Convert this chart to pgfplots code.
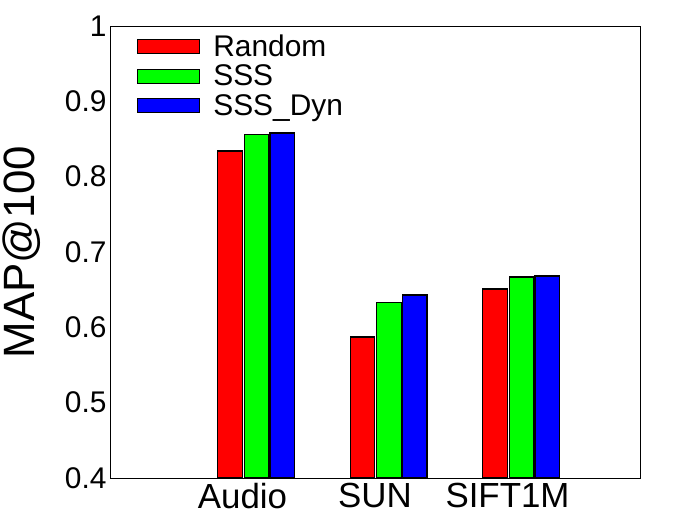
\documentclass[border=0pt]{standalone}
\usepackage{fontspec}
\setmainfont{Liberation Sans}
\usepackage{pgfplots}
\pgfplotsset{compat=1.18}

\begin{document}
\begin{tikzpicture}[x=1bp,y=1bp]
\useasboundingbox (-110,-46) rectangle (571,478);
\begin{axis}[
  at={(0,0)}, anchor=south west,
  scale only axis,
  width=530bp, height=452bp,
  xmin=0, xmax=4,
  ymin=0.4, ymax=1,
  xtick={1,2,3},
  xticklabels={Audio,SUN,SIFT1M},
  ytick={0.4,0.5,...,1.0},
  yticklabels={0.4,0.5,0.6,0.7,0.8,0.9,1},
  major tick length=0pt,
  axis line style={line width=0.8bp},
  x tick label style={font=\fontsize{35}{35}\selectfont, yshift=-2bp},
  y tick label style={font=\fontsize{30}{30}\selectfont},
  /pgf/number format/assume math mode=true,
  ylabel={MAP@100},
  ylabel style={font=\fontsize{44}{44}\selectfont, at={(axis description cs:-0.166,0.5)}, anchor=center},
  legend style={draw=none, fill=none, at={(axis description cs:0.05,0.985)}, anchor=north west,
    font=\fontsize{30}{30}\selectfont, row sep=3bp, inner sep=0pt},
  legend cell align=left,
  legend image code/.code={\draw[#1] (0bp,-7bp) rectangle (62bp,7bp); \path[draw=none,fill=none] (0bp,0bp) -- (74bp,0bp);},
  every axis plot/.append style={ybar, bar width=0.185, draw=black, line width=1.3bp},
]
\addplot[fill=red, bar shift=-0.095] coordinates {(1,0.834) (2,0.587) (3,0.651)};
\addlegendentry{Random}
\addplot[fill=green, bar shift=0.105] coordinates {(1,0.856) (2,0.633) (3,0.667)};
\addlegendentry{SSS}
\addplot[fill=blue, bar shift=0.30] coordinates {(1,0.858) (2,0.643) (3,0.668)};
\addlegendentry{SSS\_Dyn}
\end{axis}
\end{tikzpicture}
\end{document}
